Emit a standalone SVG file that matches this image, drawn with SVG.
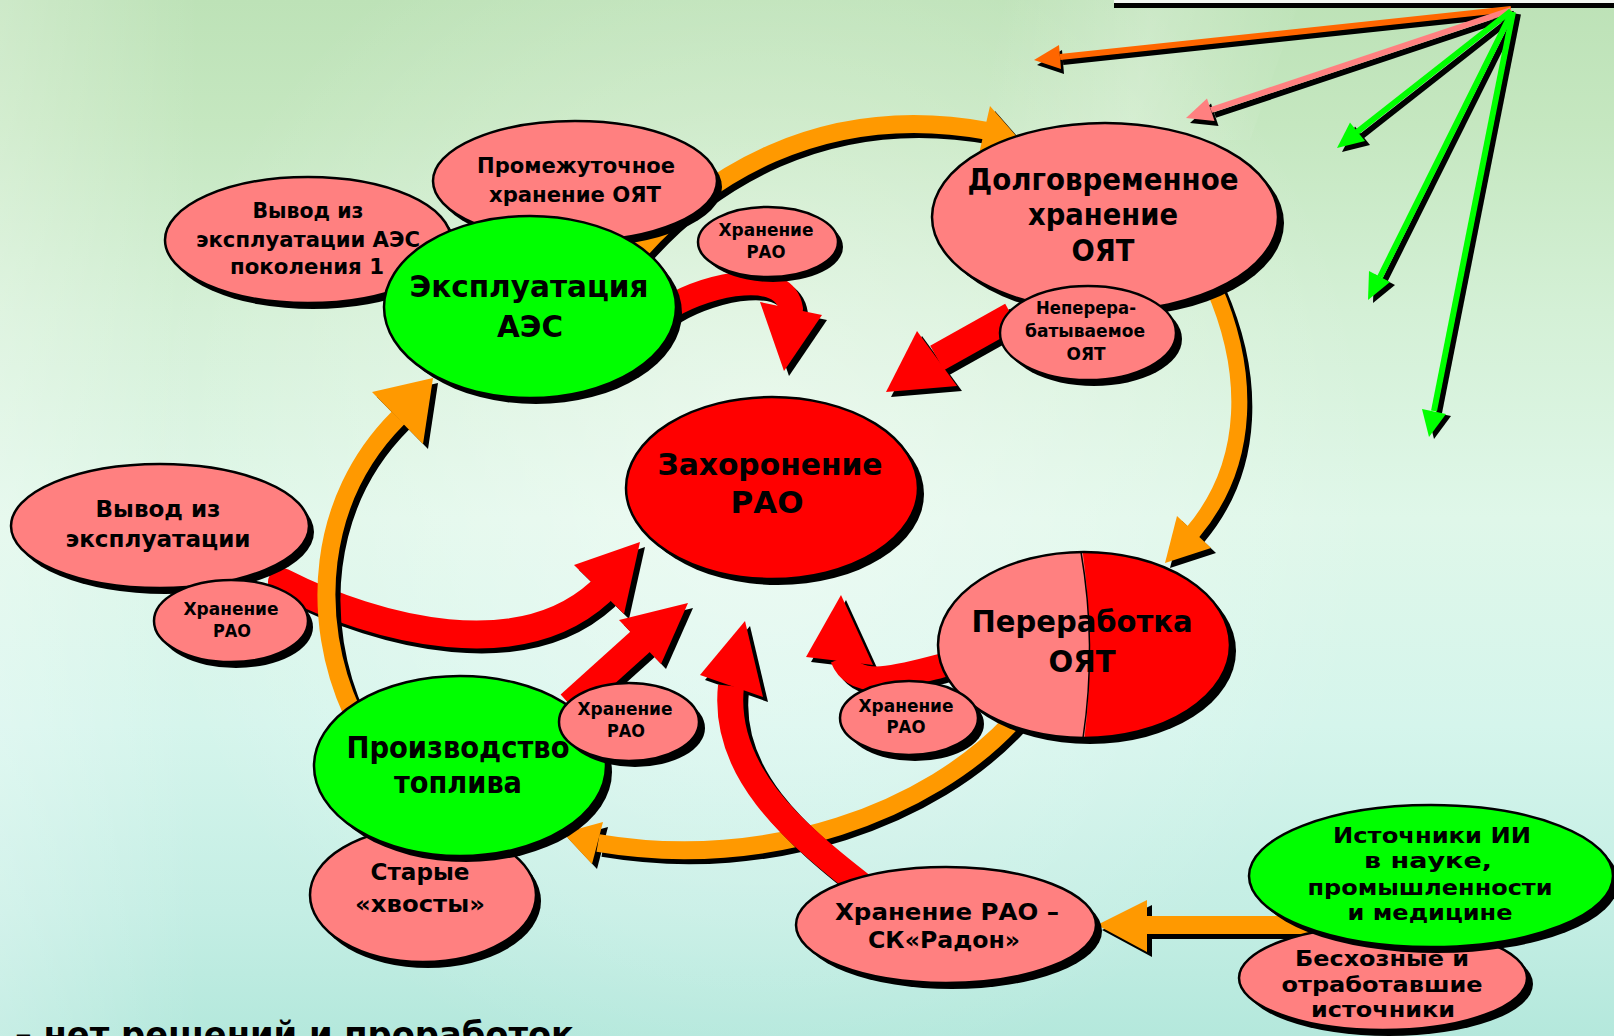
<svg xmlns="http://www.w3.org/2000/svg" xmlns:xlink="http://www.w3.org/1999/xlink" width="1614" height="1036" viewBox="0 0 1614 1036">
<defs>
<style>
.pk{fill:#ff8080}.gr{fill:#00ff00}.rd{fill:#ff0000}
.ol{stroke:#000;stroke-width:2.5}
.sd{fill:#000}
.shd{fill:#000;stroke:#000}
.cor{fill:#ff9900;stroke:#ff9900}
.cred{fill:#ff0000;stroke:#ff0000}
.cfo{fill:#ff6600;stroke:#ff6600}
.cfp{fill:#ff8080;stroke:#ff8080}
.cfg{fill:#00ff00;stroke:#00ff00}
text{font-family:"DejaVu Sans Condensed","DejaVu Sans",sans-serif;font-weight:700;text-anchor:middle;fill:#000}
.f31{font-size:31px}.f23{font-size:23px}.f21{font-size:21.5px}.f18{font-size:18px}.f35{font-size:35px}
</style>
<linearGradient id="bg" x1="0" y1="0" x2="0" y2="1">
<stop offset="0" stop-color="#bde2b7"/>
<stop offset="0.12" stop-color="#c5e7c0"/>
<stop offset="0.3" stop-color="#d4f0d6"/>
<stop offset="0.5" stop-color="#dff7e9"/>
<stop offset="0.7" stop-color="#d5f5ec"/>
<stop offset="0.88" stop-color="#c4eee4"/>
<stop offset="1" stop-color="#b4e8dc"/>
</linearGradient>
<radialGradient id="glow" cx="760" cy="480" r="620" gradientUnits="userSpaceOnUse">
<stop offset="0" stop-color="#ffffff" stop-opacity="0.45"/>
<stop offset="1" stop-color="#ffffff" stop-opacity="0"/>
</radialGradient>
<linearGradient id="leftlight" x1="0" y1="0" x2="1" y2="0">
<stop offset="0" stop-color="#ffffff" stop-opacity="0.25"/>
<stop offset="1" stop-color="#ffffff" stop-opacity="0"/>
</linearGradient>
<linearGradient id="streak" gradientUnits="userSpaceOnUse" x1="1000" y1="0" x2="1300" y2="60">
<stop offset="0" stop-color="#ffffff" stop-opacity="0"/>
<stop offset="0.5" stop-color="#ffffff" stop-opacity="0.22"/>
<stop offset="1" stop-color="#ffffff" stop-opacity="0"/>
</linearGradient>
<clipPath id="cpP"><ellipse cx="1084" cy="645" rx="146" ry="93"/></clipPath>

<g id="cA1"><path d="M630 262 C700 178 820 100 988 131" fill="none" stroke-width="18"/><polygon points="990,106 1018,138 979,154" stroke="none"/></g>
<g id="cA2"><path d="M1213 286 C1250 370 1252 462 1193 532" fill="none" stroke-width="16" stroke-linecap="round"/><polygon points="1177,516 1165,563 1211,548" stroke="none"/></g>
<g id="cA3"><path d="M1012 722 C930 810 770 872 598 843" fill="none" stroke-width="18"/><polygon points="603,822 563,833 592,864" stroke="none"/></g>
<g id="cA4"><path d="M352 712 C310 620 316 500 398 418" fill="none" stroke-width="18"/><polygon points="372,392 433,378 423,444" stroke="none"/></g>
<g id="cA5"><polygon points="1310,916 1147,916 1147,900 1097,925 1147,952 1147,934 1310,934" stroke="none"/></g>
<g id="cR1"><path d="M670 307 C710 283 785 268 791 309" fill="none" stroke-width="24" stroke-linecap="round"/><polygon points="760,302 784,371 822,315" stroke="none"/></g>
<g id="cR2"><path d="M1012 316 L937 358" fill="none" stroke-width="28"/><polygon points="917,331 886,392 957,386" stroke="none"/></g>
<g id="cR3"><path d="M282 582 C380 632 520 665 600 592" fill="none" stroke-width="28" stroke-linecap="round"/><polygon points="574,565 640,542 624,614" stroke="none"/></g>
<g id="cR4"><path d="M570 705 L641 641" fill="none" stroke-width="28"/><polygon points="619,620 688,603 661,664" stroke="none"/></g>
<g id="cR5"><path d="M865 888 C790 830 722 770 731 686" fill="none" stroke-width="26"/><polygon points="700,675 745,621 763,697" stroke="none"/></g>
<g id="cR6"><path d="M948 664 C900 676 856 692 842 658" fill="none" stroke-width="24"/><polygon points="806,657 841,595 873,665" stroke="none"/></g>
<g id="fO"><path d="M1511 9 L1060 57" fill="none" stroke-width="6"/><polygon points="1061,69 1034,60 1059,45" stroke="none"/></g>
<g id="fP"><path d="M1511 10 L1211 110" fill="none" stroke-width="6"/><polygon points="1214.5,121 1186,118 1207,98.5" stroke="none"/></g>
<g id="fG1"><path d="M1511 11 L1357 132" fill="none" stroke-width="6"/><polygon points="1365,141 1337,148 1350,122.5" stroke="none"/></g>
<g id="fG2"><path d="M1512 12 L1380 277" fill="none" stroke-width="6"/><polygon points="1390,282 1368,300 1369,271" stroke="none"/></g>
<g id="fG3"><path d="M1513 12 L1434 411" fill="none" stroke-width="6"/><polygon points="1446,414 1429,437 1422,409" stroke="none"/></g>
</defs>

<rect x="0" y="0" width="1614" height="1036" fill="url(#bg)"/>
<rect x="0" y="0" width="1614" height="1036" fill="url(#glow)"/>
<rect x="0" y="0" width="200" height="1036" fill="url(#leftlight)"/>
<polygon points="1000,0 1300,0 1250,140 950,140" fill="url(#streak)"/>
<rect x="1114" y="0" width="500" height="3" fill="#f2f6f2"/>
<rect x="1114" y="3" width="500" height="5" fill="#000"/>

<g id="connectors">
<use xlink:href="#cA1" class="shd" transform="translate(5,5)"/><use xlink:href="#cA1" class="cor"/>
<use xlink:href="#cA2" class="shd" transform="translate(5,5)"/><use xlink:href="#cA2" class="cor"/>
<use xlink:href="#cR3" class="shd" transform="translate(5,5)"/><use xlink:href="#cR3" class="cred"/>
<use xlink:href="#cA4" class="shd" transform="translate(5,5)"/><use xlink:href="#cA4" class="cor"/>
<use xlink:href="#cA3" class="shd" transform="translate(5,5)"/><use xlink:href="#cA3" class="cor"/>
<use xlink:href="#cR1" class="shd" transform="translate(5,5)"/><use xlink:href="#cR1" class="cred"/>
<use xlink:href="#cR2" class="shd" transform="translate(5,5)"/><use xlink:href="#cR2" class="cred"/>
<use xlink:href="#cR4" class="shd" transform="translate(5,5)"/><use xlink:href="#cR4" class="cred"/>
<use xlink:href="#cR5" class="shd" transform="translate(5,5)"/><use xlink:href="#cR5" class="cred"/>
<use xlink:href="#cR6" class="shd" transform="translate(5,5)"/><use xlink:href="#cR6" class="cred"/>
<use xlink:href="#cA5" class="shd" transform="translate(5,5)"/><use xlink:href="#cA5" class="cor"/>
<use xlink:href="#fO" class="shd" transform="translate(3,5)"/><use xlink:href="#fO" class="cfo"/>
<use xlink:href="#fP" class="shd" transform="translate(4,5)"/><use xlink:href="#fP" class="cfp"/>
<use xlink:href="#fG1" class="shd" transform="translate(5,4)"/><use xlink:href="#fG1" class="cfg"/>
<use xlink:href="#fG2" class="shd" transform="translate(5,3)"/><use xlink:href="#fG2" class="cfg"/>
<use xlink:href="#fG3" class="shd" transform="translate(5,2)"/><use xlink:href="#fG3" class="cfg"/>
</g>

<g id="n-vyvod-aes1">
<ellipse class="sd" cx="313" cy="246" rx="143" ry="63"/>
<ellipse class="pk ol" cx="308" cy="240" rx="143" ry="63"/>
<text class="f21" x="308" y="218" textLength="111" lengthAdjust="spacingAndGlyphs">Вывод из</text>
<text class="f21" x="308" y="247" textLength="224" lengthAdjust="spacingAndGlyphs">эксплуатации АЭС</text>
<text class="f21" x="307" y="274" textLength="154" lengthAdjust="spacingAndGlyphs">поколения 1</text>
</g>

<g id="n-promezh">
<ellipse class="sd" cx="580" cy="187" rx="142" ry="60"/>
<ellipse class="pk ol" cx="575" cy="181" rx="142" ry="60"/>
<text class="f21" x="576" y="173" textLength="198" lengthAdjust="spacingAndGlyphs">Промежуточное</text>
<text class="f21" x="575" y="202" textLength="172" lengthAdjust="spacingAndGlyphs">хранение ОЯТ</text>
</g>

<g id="n-ekspl">
<ellipse class="sd" cx="536" cy="313" rx="146" ry="91"/>
<ellipse class="gr ol" cx="530" cy="307" rx="146" ry="91"/>
<text class="f31" x="529" y="297" textLength="239" lengthAdjust="spacingAndGlyphs">Эксплуатация</text>
<text class="f31" x="530" y="337" textLength="66" lengthAdjust="spacingAndGlyphs">АЭС</text>
</g>

<g id="n-hran-top">
<ellipse class="sd" cx="773" cy="247" rx="70" ry="35"/>
<ellipse class="pk ol" cx="768" cy="242" rx="70" ry="35"/>
<text class="f18" x="766" y="236" textLength="95" lengthAdjust="spacingAndGlyphs">Хранение</text>
<text class="f18" x="766" y="258" textLength="39" lengthAdjust="spacingAndGlyphs">РАО</text>
</g>

<g id="n-dolgovr">
<ellipse class="sd" cx="1111" cy="223" rx="173" ry="94"/>
<ellipse class="pk ol" cx="1105" cy="217" rx="173" ry="94"/>
<text class="f31" x="1103" y="190" textLength="271" lengthAdjust="spacingAndGlyphs">Долговременное</text>
<text class="f31" x="1103" y="225" textLength="150" lengthAdjust="spacingAndGlyphs">хранение</text>
<text class="f31" x="1103" y="261" textLength="63" lengthAdjust="spacingAndGlyphs">ОЯТ</text>
</g>

<g id="n-neperer">
<ellipse class="sd" cx="1094" cy="339" rx="88" ry="47"/>
<ellipse class="pk ol" cx="1088" cy="333" rx="88" ry="47"/>
<text class="f18" x="1086" y="314" textLength="100" lengthAdjust="spacingAndGlyphs">Неперера-</text>
<text class="f18" x="1085" y="337" textLength="120" lengthAdjust="spacingAndGlyphs">батываемое</text>
<text class="f18" x="1086" y="360" textLength="39" lengthAdjust="spacingAndGlyphs">ОЯТ</text>
</g>

<g id="n-zahoron">
<ellipse class="sd" cx="778" cy="494" rx="146" ry="91"/>
<ellipse class="rd ol" cx="772" cy="488" rx="146" ry="91"/>
<text class="f31" x="770" y="475" textLength="225" lengthAdjust="spacingAndGlyphs">Захоронение</text>
<text class="f31" x="767" y="513" textLength="73" lengthAdjust="spacingAndGlyphs">РАО</text>
</g>

<g id="n-vyvod">
<ellipse class="sd" cx="165" cy="532" rx="149" ry="62"/>
<ellipse class="pk ol" cx="160" cy="526" rx="149" ry="62"/>
<text class="f23" x="158" y="517" textLength="125" lengthAdjust="spacingAndGlyphs">Вывод из</text>
<text class="f23" x="158" y="547" textLength="185" lengthAdjust="spacingAndGlyphs">эксплуатации</text>
</g>

<g id="n-hran-left">
<ellipse class="sd" cx="236" cy="627" rx="77" ry="41"/>
<ellipse class="pk ol" cx="231" cy="621" rx="77" ry="41"/>
<text class="f18" x="231" y="615" textLength="95" lengthAdjust="spacingAndGlyphs">Хранение</text>
<text class="f18" x="232" y="637" textLength="38" lengthAdjust="spacingAndGlyphs">РАО</text>
</g>

<g id="n-starye">
<ellipse class="sd" cx="428" cy="901" rx="113" ry="67"/>
<ellipse class="pk ol" cx="423" cy="895" rx="113" ry="67"/>
<text class="f23" x="420" y="880" textLength="99" lengthAdjust="spacingAndGlyphs">Старые</text>
<text class="f23" x="420" y="912" textLength="130" lengthAdjust="spacingAndGlyphs">«хвосты»</text>
</g>

<g id="n-proizv">
<ellipse class="sd" cx="466" cy="772" rx="146" ry="90"/>
<ellipse class="gr ol" cx="460" cy="766" rx="146" ry="90"/>
<text class="f31" x="458" y="758" textLength="223" lengthAdjust="spacingAndGlyphs">Производство</text>
<text class="f31" x="458" y="793" textLength="128" lengthAdjust="spacingAndGlyphs">топлива</text>
</g>

<g id="n-hran-proizv">
<ellipse class="sd" cx="635" cy="728" rx="70" ry="39"/>
<ellipse class="pk ol" cx="629" cy="722" rx="70" ry="39"/>
<text class="f18" x="625" y="715" textLength="95" lengthAdjust="spacingAndGlyphs">Хранение</text>
<text class="f18" x="626" y="737" textLength="38" lengthAdjust="spacingAndGlyphs">РАО</text>
</g>

<g id="n-pererab">
<ellipse class="sd" cx="1090" cy="651" rx="146" ry="93"/>
<ellipse class="pk" cx="1084" cy="645" rx="146" ry="93"/>
<path class="rd" clip-path="url(#cpP)" d="M1081 540 Q1097 645 1083 750 L1240 750 L1240 540 Z"/>
<path d="M1081 552 Q1097 645 1083 738" fill="none" stroke="#000" stroke-width="1.5"/>
<ellipse cx="1084" cy="645" rx="146" ry="93" fill="none" class="ol"/>
<text class="f31" x="1082" y="632" textLength="221" lengthAdjust="spacingAndGlyphs">Переработка</text>
<text class="f31" x="1082" y="672" textLength="67" lengthAdjust="spacingAndGlyphs">ОЯТ</text>
</g>

<g id="n-hran-pererab">
<ellipse class="sd" cx="915" cy="724" rx="69" ry="37"/>
<ellipse class="pk ol" cx="909" cy="718" rx="69" ry="37"/>
<text class="f18" x="906" y="712" textLength="95" lengthAdjust="spacingAndGlyphs">Хранение</text>
<text class="f18" x="906" y="733" textLength="39" lengthAdjust="spacingAndGlyphs">РАО</text>
</g>

<g id="n-radon">
<ellipse class="sd" cx="952" cy="931" rx="150" ry="58"/>
<ellipse class="pk ol" cx="946" cy="925" rx="150" ry="58"/>
<text class="f23" x="947" y="920" textLength="224" lengthAdjust="spacingAndGlyphs">Хранение РАО –</text>
<text class="f23" x="944" y="948" textLength="152" lengthAdjust="spacingAndGlyphs">СК«Радон»</text>
</g>

<g id="n-besh">
<ellipse class="sd" cx="1389" cy="984" rx="144" ry="52"/>
<ellipse class="pk ol" cx="1383" cy="978" rx="144" ry="52"/>
<text class="f21" x="1382" y="966" textLength="174" lengthAdjust="spacingAndGlyphs">Бесхозные и</text>
<text class="f21" x="1382" y="992" textLength="201" lengthAdjust="spacingAndGlyphs">отработавшие</text>
<text class="f21" x="1383" y="1017" textLength="144" lengthAdjust="spacingAndGlyphs">источники</text>
</g>

<g id="n-istochn">
<ellipse class="sd" cx="1437" cy="882" rx="182" ry="71"/>
<ellipse class="gr ol" cx="1431" cy="876" rx="182" ry="71"/>
<text class="f21" x="1432" y="843" textLength="198" lengthAdjust="spacingAndGlyphs">Источники ИИ</text>
<text class="f21" x="1428" y="868" textLength="128" lengthAdjust="spacingAndGlyphs">в науке,</text>
<text class="f21" x="1430" y="895" textLength="245" lengthAdjust="spacingAndGlyphs">промышленности</text>
<text class="f21" x="1430" y="920" textLength="165" lengthAdjust="spacingAndGlyphs">и медицине</text>
</g>

<text class="f35" x="15" y="1047" style="text-anchor:start" textLength="559" lengthAdjust="spacingAndGlyphs">– нет решений и проработок</text>
</svg>
